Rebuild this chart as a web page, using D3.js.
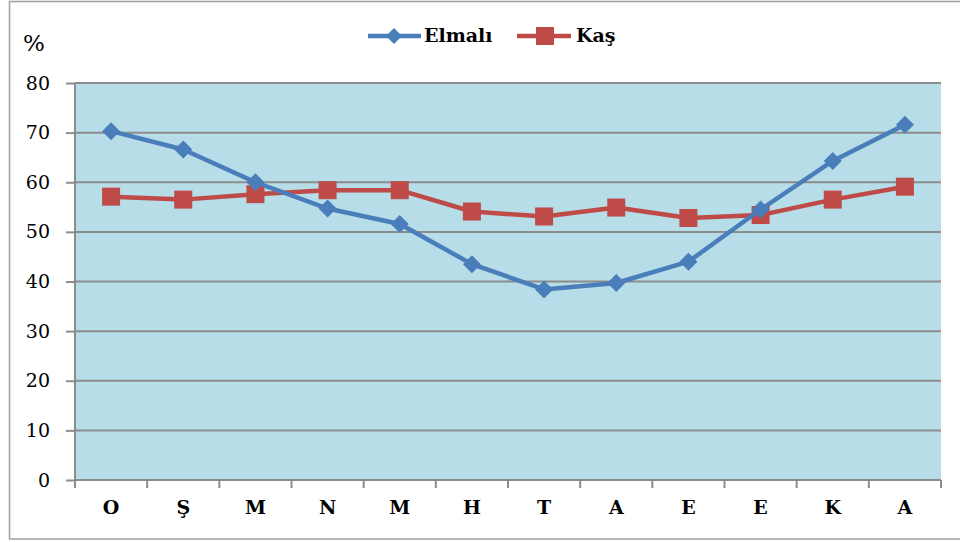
<!DOCTYPE html>
<html><head><meta charset="utf-8">
<script src="https://cdn.jsdelivr.net/npm/d3@7"></script>
<style>body{margin:0;background:#fff;}svg{display:block;} svg text{font-family:"DejaVu Serif","Liberation Serif",serif;}</style>
</head><body>
<svg id="c" width="960" height="542"></svg>
<script>
const categories = ["O","Ş","M","N","M","H","T","A","E","E","K","A"];
const elmali = [70.3, 66.6, 60.0, 54.7, 51.6, 43.5, 38.4, 39.7, 44.0, 54.5, 64.3, 71.6];
const kas = [57.1, 56.5, 57.6, 58.4, 58.4, 54.1, 53.1, 54.9, 52.8, 53.4, 56.5, 59.1];
const yTicks = [0,10,20,30,40,50,60,70,80];
const seriesNames = ["Elmalı","Kaş"];

const svg = d3.select("#c");
const L = 75, R = 941, T = 83, B = 480;

// outer border
svg.append("rect").attr("x",9.5).attr("y",1.5).attr("width",960).attr("height",537.5)
  .attr("fill","#fff").attr("stroke","#a0a0a0").attr("stroke-width",1.5);

const x = d3.scaleBand().domain(d3.range(categories.length)).range([L,R]).padding(0);
const y = d3.scaleLinear().domain([0,80]).range([B,T]);

svg.append("rect").attr("x",L).attr("y",T).attr("width",R-L).attr("height",B-T).attr("fill","#b7dde8");

// gridlines
svg.append("g").selectAll("line").data(yTicks.filter(d=>d>0)).join("line")
  .attr("x1",L).attr("x2",R).attr("y1",d=>y(d)).attr("y2",d=>y(d))
  .attr("stroke","#8c8c8c").attr("stroke-width",2);

// y axis
const ya = svg.append("g").attr("transform",`translate(${L},0)`)
  .call(d3.axisLeft(y).tickValues(yTicks).tickSize(9).tickPadding(16).tickFormat(d3.format("d")));
ya.attr("font-family",null);
ya.select(".domain").attr("stroke","#8c8c8c").attr("stroke-width",2).attr("d",`M0,${T}V${B}`);
ya.selectAll(".tick line").attr("stroke","#8c8c8c").attr("stroke-width",2);
ya.selectAll("text").attr("font-size",19).attr("fill","#000");

// x axis
const xa = svg.append("g").attr("transform",`translate(0,${B})`)
  .call(d3.axisBottom(x).tickFormat(i=>categories[i]).tickSize(0).tickPadding(21));
xa.attr("font-family",null);
xa.select(".domain").attr("stroke","#8c8c8c").attr("stroke-width",2).attr("d",`M${L},0H${R}`);
xa.selectAll("text").attr("font-size",19).attr("font-weight","bold").attr("fill","#000");
// boundary ticks
const bounds = d3.range(categories.length+1).map(i=> i<categories.length ? x(i) : R);
xa.append("g").selectAll("line").data(bounds).join("line")
  .attr("x1",d=>d).attr("x2",d=>d).attr("y1",0).attr("y2",8)
  .attr("stroke","#8c8c8c").attr("stroke-width",2);

const cx = i => x(i) + x.bandwidth()/2;
const line = d3.line().x((d,i)=>cx(i)).y(d=>y(d));

const blue = "#4a7ebb", red = "#be4b48";
svg.append("path").datum(kas).attr("d",line).attr("fill","none").attr("stroke",red).attr("stroke-width",4.5).attr("stroke-linejoin","round");
svg.append("g").selectAll("rect").data(kas).join("rect")
  .attr("x",(d,i)=>cx(i)-9).attr("y",d=>y(d)-9).attr("width",18).attr("height",18).attr("fill",red);

svg.append("path").datum(elmali).attr("d",line).attr("fill","none").attr("stroke",blue).attr("stroke-width",4.5).attr("stroke-linejoin","round");
const diamond = s => `M0,${-s}L${s},0L0,${s}L${-s},0Z`;
svg.append("g").selectAll("path").data(elmali).join("path")
  .attr("transform",(d,i)=>`translate(${cx(i)},${y(d)})`).attr("d",diamond(9)).attr("fill",blue);

// % label
svg.append("text").attr("x",23).attr("y",51).attr("font-size",23).attr("fill","#000").text("%");

// legend
const lg = svg.append("g");
lg.append("line").attr("x1",368).attr("x2",421).attr("y1",36).attr("y2",36).attr("stroke",blue).attr("stroke-width",4.5);
lg.append("path").attr("transform","translate(394,36)").attr("d",diamond(8)).attr("fill",blue);
lg.append("text").attr("x",424).attr("y",42).attr("font-size",19).attr("font-weight","bold").attr("fill","#000").text(seriesNames[0]);
lg.append("line").attr("x1",517).attr("x2",571).attr("y1",36).attr("y2",36).attr("stroke",red).attr("stroke-width",4.5);
lg.append("rect").attr("x",536).attr("y",27).attr("width",18).attr("height",18).attr("fill",red);
lg.append("text").attr("x",576).attr("y",42).attr("font-size",19).attr("font-weight","bold").attr("fill","#000").text(seriesNames[1]);
</script>
</body></html>
